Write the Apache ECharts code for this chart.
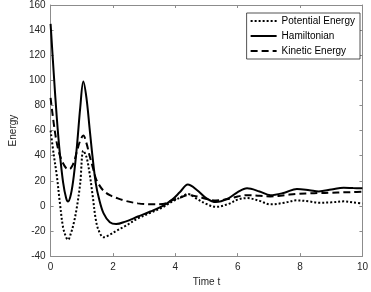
<!DOCTYPE html>
<html>
<head>
<meta charset="utf-8">
<script src="https://cdn.jsdelivr.net/npm/echarts@6/dist/echarts.min.js"></script>
<style>
  html, body { margin: 0; padding: 0; background: #fff; }
  #chart { width: 371px; height: 292px; }
</style>
</head>
<body>
<div id="chart"></div>
<script>
// values
const times = [0, 0.1, 0.2, 0.3, 0.4, 0.5, 0.56, 0.65, 0.75, 0.85, 0.95, 1.05, 1.15, 1.25, 1.35, 1.45,
    1.55, 1.7, 1.9, 2.1, 2.4, 2.8, 3.2, 3.6, 3.9, 4.15, 4.4, 4.7, 5.0, 5.3, 5.7, 6.0, 6.3, 6.7, 7.05,
    7.5, 7.9, 8.3, 8.6, 9.0, 9.4, 9.7, 10];
const hamiltonian = [145, 106, 70, 41, 19, 6, 3.5, 9, 25, 49, 78, 99, 86, 62, 38, 18,
    6, -6, -13, -14.5, -12.5, -8.5, -4.5, 0, 5, 11, 17, 12.5, 6, 3, 6, 11, 14, 11.5, 8.5,
    10.5, 13.5, 12.5, 11.5, 13, 14.5, 14.2, 14];
const kinetic = [86, 66, 50, 40, 34, 30, 29, 30, 35, 44, 52, 56, 50, 40, 31, 22,
    17, 12, 8.5, 6.5, 4, 2, 1.3, 1.5, 4.5, 6.5, 8.5, 7.5, 5.5, 4.3, 5.5, 7.5, 8.5, 8, 7.5,
    8.5, 9.6, 10, 10.2, 10.5, 10.8, 11, 11.2];
const potential = [60, 41, 24, 2, -17, -25, -27, -22, -13, 0, 18, 44, 39, 26, 8, -11,
    -20, -25, -23, -20, -16, -10, -5.5, -1, 3.5, 6.5, 9.5, 5.5, 1.5, -0.8, 1.5, 5, 6.2, 4, 1.2,
    2.5, 4.4, 3.5, 2.5, 2.8, 3.6, 2.8, 1.8];
const xTicks = [0, 2, 4, 6, 8, 10];
const yTicks = [-40, -20, 0, 20, 40, 60, 80, 100, 120, 140, 160];

const pairs = (vals) => times.map((t, i) => [t, vals[i]]);

const axisGrey = '#8c8c8c';
const textGrey = '#262626';
const font = 'Liberation Sans, Arial, sans-serif';

const myChart = echarts.init(document.getElementById('chart'));

const xBase = {
    type: 'value',
    min: xTicks[0],
    max: xTicks[xTicks.length - 1],
    interval: 2,
    splitLine: {show: false},
    axisLine: {onZero: false, lineStyle: {color: axisGrey, width: 1}},
    axisTick: {inside: true, length: 3, lineStyle: {color: axisGrey}}
};
const yBase = {
    type: 'value',
    min: yTicks[0],
    max: yTicks[yTicks.length - 1],
    interval: 20,
    splitLine: {show: false},
    axisLine: {onZero: false, lineStyle: {color: axisGrey, width: 1}},
    axisTick: {inside: true, length: 3, lineStyle: {color: axisGrey}}
};

const option = {
    animation: false,
    textStyle: {fontFamily: font},
    grid: {left: 37, right: 8, top: 5, bottom: 30, containLabel: false},
    legend: {
        right: 11,
        top: 13,
        orient: 'vertical',
        itemWidth: 26,
        itemHeight: 8,
        itemGap: 5,
        padding: [3, 5, 3, 3],
        borderColor: textGrey,
        borderWidth: 0.8,
        backgroundColor: '#fff',
        itemStyle: {opacity: 0},
        textStyle: {color: '#000', fontSize: 10, fontFamily: font, padding: [0, 0, 0, 0]},
        data: ['Potential Energy', 'Hamiltonian', 'Kinetic Energy']
    },
    xAxis: [
        Object.assign({}, xBase, {
            name: 'Time t',
            nameLocation: 'middle',
            nameGap: 19,
            nameTextStyle: {color: textGrey, fontSize: 10},
            axisLabel: {color: textGrey, fontSize: 10, margin: 6}
        }),
        Object.assign({}, xBase, {position: 'top', axisLabel: {show: false}})
    ],
    yAxis: [
        Object.assign({}, yBase, {
            name: 'Energy',
            nameLocation: 'middle',
            nameGap: 28,
            nameTextStyle: {color: textGrey, fontSize: 10},
            axisLabel: {color: textGrey, fontSize: 10, margin: 5}
        }),
        Object.assign({}, yBase, {position: 'right', axisLabel: {show: false}})
    ],
    series: [
        {
            name: 'Potential Energy',
            type: 'line',
            symbol: 'none',
            smooth: 0.35,
            lineStyle: {color: '#000', width: 2, type: [2, 2]},
            itemStyle: {color: '#000'},
            data: pairs(potential)
        },
        {
            name: 'Hamiltonian',
            type: 'line',
            symbol: 'none',
            smooth: 0.35,
            lineStyle: {color: '#000', width: 2},
            itemStyle: {color: '#000'},
            data: pairs(hamiltonian)
        },
        {
            name: 'Kinetic Energy',
            type: 'line',
            symbol: 'none',
            smooth: 0.35,
            lineStyle: {color: '#000', width: 2, type: [7, 4]},
            itemStyle: {color: '#000'},
            data: pairs(kinetic)
        }
    ]
};

myChart.setOption(option);
</script>
</body>
</html>
